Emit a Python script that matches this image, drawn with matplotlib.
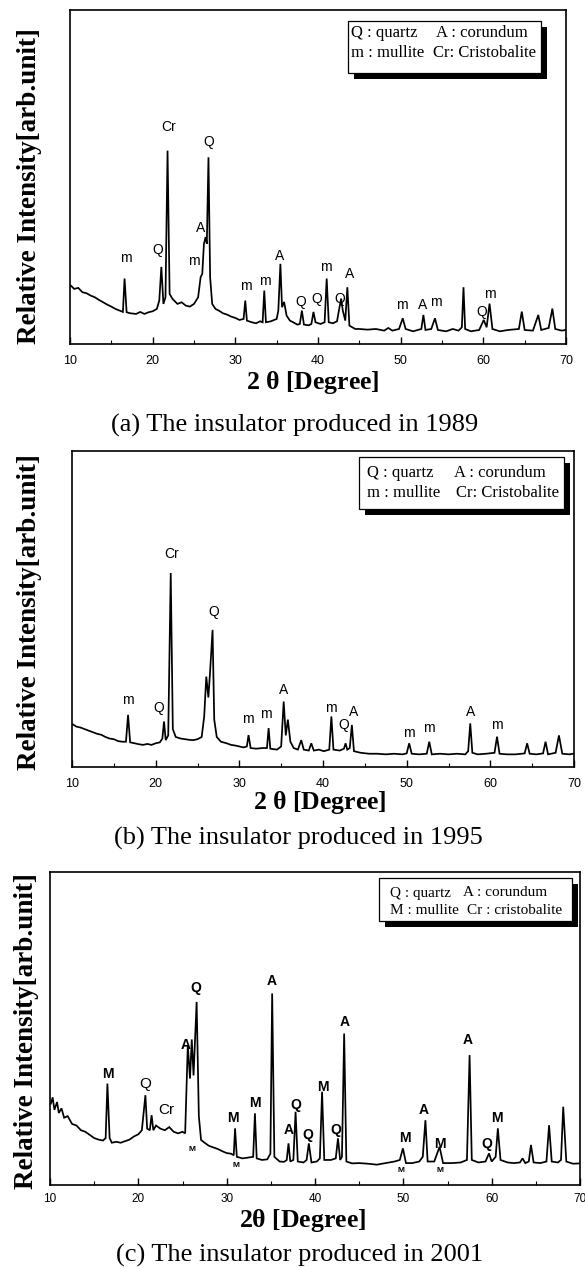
import matplotlib
matplotlib.use("Agg")
import matplotlib.pyplot as plt
from matplotlib.patches import Rectangle
from matplotlib.ticker import MultipleLocator

plt.rcParams['font.family'] = ['Liberation Sans', 'DejaVu Sans']

# ---- data (2theta in degrees, intensity 0..100 of the axis height) ----

# (a) insulator produced in 1989
two_theta_a = [10.1, 10.5, 11.0, 11.5, 12.0, 12.5, 13.0, 13.5, 14.0, 14.5, 15.0, 15.5, 16.0, 16.4,
               16.6, 16.85, 17.3, 18.0, 18.5, 19.0, 19.5, 20.0, 20.5, 20.8, 21.05, 21.3, 21.55,
               21.8, 22.05, 22.4, 23.0, 23.5, 24.0, 24.5, 25.0, 25.5, 25.8, 26.0, 26.2, 26.4,
               26.55, 26.75, 26.95, 27.2, 27.6, 28.0, 28.5, 29.0, 29.5, 30.0, 30.5, 31.0, 31.2,
               31.4, 32.0, 32.5, 33.0, 33.3, 33.5, 33.7, 34.3, 35.0, 35.2, 35.45, 35.65, 35.9,
               36.2, 36.6, 37.0, 37.5, 37.8, 38.05, 38.3, 38.9, 39.2, 39.45, 39.7, 40.3, 40.8,
               41.05, 41.3, 41.8, 42.3, 42.6, 42.8, 43.0, 43.3, 43.55, 43.8, 44.5, 45.0, 46.0,
               47.0, 48.0, 48.5, 49.0, 49.8, 50.25, 50.6, 51.5, 52.5, 52.75, 53.0, 53.7, 54.15,
               54.5, 55.5, 56.3, 57.0, 57.4, 57.6, 57.8, 58.5, 59.5, 60.05, 60.4, 60.75, 61.1,
               62.0, 63.0, 64.3, 64.65, 65.0, 66.0, 66.65, 67.0, 67.9, 68.35, 68.7, 69.5, 69.9]
intensity_a = [17.5, 16.5, 16.8, 15.5, 15.2, 14.5, 14.0, 13.2, 12.5, 11.8, 11.2, 10.5, 10.0, 9.6,
               19.6, 9.5, 9.2, 9.0, 9.6, 9.0, 9.5, 9.8, 10.5, 13.0, 23.1, 12.0, 14.0,
               57.9, 15.0, 13.5, 12.0, 12.5, 11.5, 11.2, 12.0, 14.0, 20.0, 21.0, 30.0, 32.0,
               30.0, 55.9, 20.0, 12.0, 10.5, 10.0, 9.2, 8.8, 8.2, 7.8, 7.2, 7.5, 13.0,
               7.0, 6.5, 6.2, 6.8, 6.5, 16.0, 6.5, 6.8, 7.5, 10.0, 24.0, 11.0, 12.6,
               8.5, 7.0, 6.5, 5.8, 6.0, 10.0, 5.8, 5.6, 6.0, 9.6, 6.5, 6.0, 6.5,
               19.6, 6.5, 6.2, 6.8, 11.0, 13.6, 10.0, 7.0, 17.0, 5.5, 4.5, 4.5, 4.3,
               4.5, 4.0, 4.8, 4.0, 4.5, 7.7, 4.5, 3.8, 4.5, 8.7, 4.2, 4.5, 7.7,
               4.2, 3.8, 4.5, 4.0, 5.0, 17.0, 4.5, 3.8, 4.2, 7.2, 5.0, 12.1, 4.5,
               3.8, 4.2, 4.5, 9.7, 4.2, 4.0, 8.7, 4.2, 4.8, 10.6, 4.5, 4.0, 4.2]
labels_a = [("m", 16.7, 25.6), ("Q", 20.6, 28.0), ("Cr", 21.9, 65.0), ("m", 25.0, 24.8),
            ("A", 25.85, 34.7), ("Q", 26.75, 60.4), ("m", 31.3, 17.3), ("m", 33.6, 18.8),
            ("A", 35.4, 26.3), ("Q", 37.9, 12.6), ("Q", 39.8, 13.4), ("m", 40.9, 23.1),
            ("Q", 42.6, 13.4), ("A", 43.8, 21.1), ("m", 50.1, 11.6), ("A", 52.7, 11.6),
            ("m", 54.2, 12.6), ("Q", 59.8, 9.7), ("m", 60.8, 15.1)]
legend_a = [["Q : quartz", "A : corundum"], ["m : mullite", "Cr: Cristobalite"]]

# (b) insulator produced in 1995
two_theta_b = [10.1, 10.5, 11.0, 11.5, 12.0, 12.5, 13.0, 13.5, 14.0, 14.5, 15.0, 15.5, 16.0, 16.45,
               16.7, 16.95, 17.5, 18.0, 18.5, 19.0, 19.5, 20.0, 20.5, 20.8, 21.0, 21.2, 21.5,
               21.8, 22.05, 22.4, 23.0, 23.5, 24.0, 24.5, 25.0, 25.5, 25.8, 26.05, 26.3, 26.5,
               26.8, 27.0, 27.3, 27.8, 28.5, 29.0, 29.5, 30.0, 30.5, 30.9, 31.1, 31.35, 32.0,
               32.8, 33.3, 33.5, 33.7, 34.5, 35.0, 35.3, 35.55, 35.8, 36.1, 36.5, 37.0, 37.4,
               37.7, 38.3, 38.6, 38.9, 39.5, 40.1, 40.75, 41.0, 41.25, 42.0, 42.5, 42.7, 42.9,
               43.2, 43.45, 43.7, 44.5, 45.5, 46.5, 47.5, 48.5, 49.5, 50.0, 50.3, 50.6, 51.5,
               52.4, 52.7, 53.0, 54.0, 55.0, 56.0, 57.0, 57.35, 57.6, 57.85, 58.5, 59.5, 60.5,
               60.8, 61.1, 62.0, 63.0, 64.1, 64.4, 64.7, 65.5, 66.3, 66.6, 66.9, 67.8, 68.2,
               68.6, 69.5, 69.9]
intensity_b = [13.5, 12.8, 12.5, 12.0, 11.5, 11.0, 10.5, 10.2, 9.5, 9.0, 8.8, 8.2, 8.0, 8.0,
               16.5, 7.8, 7.5, 7.2, 7.0, 7.3, 7.0, 7.5, 7.8, 9.0, 14.4, 8.5, 10.0,
               61.4, 12.0, 9.5, 9.0, 8.8, 8.6, 8.5, 8.8, 9.5, 16.0, 28.6, 22.0, 30.0,
               43.4, 15.0, 9.5, 8.0, 7.5, 7.0, 6.8, 6.5, 6.2, 6.5, 10.1, 6.0, 5.8,
               6.0, 6.0, 12.3, 5.8, 5.5, 6.5, 20.7, 10.0, 15.0, 8.0, 6.0, 5.5, 8.5,
               5.5, 5.2, 7.5, 5.2, 5.5, 5.0, 5.5, 16.0, 5.5, 5.2, 5.8, 7.5, 5.5,
               6.0, 13.3, 5.0, 4.5, 4.2, 4.2, 4.0, 4.2, 4.0, 4.3, 7.5, 4.2, 4.0,
               4.2, 8.0, 4.0, 4.2, 4.0, 4.2, 4.0, 5.0, 13.8, 4.5, 4.0, 4.2, 4.5,
               9.6, 4.2, 4.0, 4.0, 4.3, 7.5, 4.2, 4.0, 4.3, 8.0, 4.0, 4.5, 10.0,
               4.2, 4.0, 4.2]
labels_b = [("m", 16.7, 21.2), ("Q", 20.4, 18.6), ("Cr", 21.9, 67.5), ("Q", 27.0, 49.0),
            ("m", 31.0, 15.1), ("m", 33.2, 16.8), ("A", 35.3, 24.4), ("m", 40.9, 18.6),
            ("Q", 42.5, 13.3), ("A", 43.6, 17.5), ("m", 50.3, 10.9), ("m", 52.7, 12.3),
            ("A", 57.6, 17.5), ("m", 60.8, 13.3)]
legend_b = [["Q : quartz", "A : corundum"], ["m : mullite", "Cr: Cristobalite"]]

# (c) insulator produced in 2001
two_theta_c = [10.1, 10.3, 10.5, 10.8, 11.0, 11.3, 11.6, 12.0, 12.5, 13.0, 13.5, 14.0, 14.5, 15.0,
               15.5, 16.0, 16.3, 16.5, 16.75, 17.0, 17.5, 18.0, 18.5, 19.0, 19.5, 20.0, 20.4,
               20.8, 21.0, 21.3, 21.5, 21.7, 22.0, 22.5, 23.0, 23.5, 24.0, 24.5, 25.0, 25.3,
               25.6, 25.85, 26.05, 26.25, 26.6, 26.85, 27.1, 27.5, 28.0, 28.5, 29.0, 29.5, 30.0,
               30.5, 30.8, 30.95, 31.15, 31.8, 32.5, 33.0, 33.2, 33.4, 34.0, 34.6, 34.95, 35.15,
               35.4, 36.0, 36.5, 36.8, 37.0, 37.2, 37.55, 37.8, 38.05, 38.7, 39.05, 39.3, 39.6,
               40.2, 40.55, 40.8, 41.05, 41.8, 42.35, 42.6, 42.85, 43.05, 43.3, 43.55, 44.2, 45.0,
               46.0, 47.0, 48.0, 49.0, 49.6, 49.95, 50.3, 51.0, 51.8, 52.2, 52.5, 52.75, 53.5,
               54.1, 54.5, 55.5, 56.5, 57.2, 57.5, 57.75, 58.5, 59.3, 59.7, 60.0, 60.45, 60.7,
               61.0, 61.8, 62.5, 63.2, 63.5, 63.8, 64.2, 64.45, 64.75, 65.5, 66.2, 66.5, 66.8,
               67.5, 67.85, 68.1, 68.45, 69.2, 69.9]
intensity_c = [26.0, 28.0, 24.0, 26.5, 23.0, 24.5, 21.5, 22.0, 19.5, 19.0, 17.5, 17.0, 16.0, 15.0,
               14.5, 14.2, 15.0, 32.4, 15.0, 13.5, 13.8, 13.5, 14.0, 14.5, 15.5, 16.2, 17.5,
               28.7, 18.0, 17.5, 22.3, 17.5, 19.0, 18.0, 17.5, 18.5, 17.0, 16.5, 17.0, 16.5,
               44.7, 34.0, 46.5, 35.0, 58.5, 22.0, 14.4, 13.5, 12.5, 12.0, 11.5, 10.8, 10.2,
               10.0, 9.5, 18.1, 9.0, 8.5, 8.8, 9.0, 22.9, 8.5, 8.0, 8.2, 10.0, 61.2,
               9.0, 7.5, 7.4, 8.0, 13.3, 7.5, 8.0, 23.4, 7.5, 7.2, 8.0, 13.3, 7.2,
               7.5, 8.5, 29.8, 8.0, 8.0, 8.5, 14.9, 8.0, 9.0, 48.4, 7.5, 6.9, 7.0,
               6.8, 6.5, 7.0, 7.5, 8.0, 11.7, 7.0, 7.0, 7.5, 9.0, 20.7, 7.5, 7.5,
               12.2, 7.0, 7.0, 7.2, 8.0, 41.5, 8.0, 7.2, 7.5, 10.1, 7.5, 9.0, 18.1,
               8.0, 7.2, 7.0, 7.2, 8.5, 7.0, 7.5, 12.8, 7.2, 7.0, 7.5, 19.1, 7.5,
               7.2, 8.0, 25.0, 7.5, 6.8, 6.9]
labels_c = [("M", 16.5, 35.6), ("A", 25.35, 44.7), ("Q", 26.5, 62.8), ("M", 30.7, 21.3),
            ("M", 33.2, 26.1), ("A", 35.1, 65.2), ("A", 37.0, 17.6), ("Q", 37.8, 25.5),
            ("Q", 39.2, 16.0), ("M", 40.9, 31.4), ("Q", 42.4, 17.6), ("A", 43.4, 52.1),
            ("M", 50.2, 14.9), ("A", 52.3, 24.1), ("M", 54.1, 13.1), ("A", 57.3, 46.3),
            ("Q", 59.5, 13.1), ("M", 60.55, 21.3)]
labels_c_plain = [("Q", 20.8, 32.4), ("Cr", 23.2, 23.9)]
labels_c_small = [("M", 26.1, 11.2), ("M", 31.0, 6.1), ("M", 49.7, 4.6), ("M", 54.1, 4.6)]
legend_c = [["Q : quartz", "A : corundum"], ["M : mullite", "Cr : cristobalite"]]

x_ticks = [10, 20, 30, 40, 50, 60, 70]

FIG_W, FIG_H = 585, 1268
SERIF = ['Liberation Serif', 'DejaVu Serif']


def fx(px):
    return px / FIG_W


def fy(py):
    return 1 - py / FIG_H


def add_legend_box(fig, left, top, right, bottom, rows, cols_x, rows_y, size):
    shadow = 6
    fig.add_artist(Rectangle((fx(left + shadow), fy(bottom + shadow)),
                             fx(right - left), (bottom - top) / FIG_H,
                             transform=fig.transFigure, facecolor='black',
                             edgecolor='none', zorder=5))
    fig.add_artist(Rectangle((fx(left), fy(bottom)), fx(right - left), (bottom - top) / FIG_H,
                             transform=fig.transFigure, facecolor='white',
                             edgecolor='black', linewidth=0.9, zorder=6))
    for r, row in enumerate(rows):
        for c, txt in enumerate(row):
            fig.text(fx(cols_x[r][c]), fy(rows_y[r]), txt, family=SERIF, fontsize=size,
                     ha='left', va='center', zorder=7)


def draw_panel(fig, box, tt, ii, tick_y, tick_size):
    left, top, right, bottom = box
    ax = fig.add_axes([fx(left), fy(bottom), fx(right - left), (bottom - top) / FIG_H])
    ax.plot(tt, ii, color='black', linewidth=1.25, solid_joinstyle='miter')
    ax.set_xlim(10, 70)
    ax.set_ylim(0, 100)
    ax.set_yticks([])
    ax.set_xticks(x_ticks)
    ax.xaxis.set_minor_locator(MultipleLocator(5))
    ax.tick_params(axis='x', which='major', direction='in', length=5, width=1.0,
                   labelsize=tick_size, pad=tick_y - bottom - 7)
    ax.tick_params(axis='x', which='minor', direction='in', length=3, width=0.8)
    for sp in ax.spines.values():
        sp.set_linewidth(1.2)
    return ax


fig = plt.figure(figsize=(FIG_W / 100, FIG_H / 100), dpi=100)

# ---------------- panel (a) ----------------
ax_a = draw_panel(fig, (70, 10, 566, 344), two_theta_a, intensity_a, 359, 9)
for txt, x, y in labels_a:
    ax_a.text(x, y, txt, fontsize=10, ha='center', va='center')
add_legend_box(fig, 348, 21, 541, 73, legend_a,
               [[351, 436], [351, 433]], [33, 53], 12)
fig.text(fx(30), fy(186), 'Relative Intensity[arb.unit]', rotation=90, family=SERIF,
         fontweight='bold', fontsize=19.5, ha='center', va='center')
fig.text(fx(313), fy(383), r'2 $\mathregular{\theta}$ [Degree]', family=SERIF,
         fontweight='bold', fontsize=18.5, ha='center', va='center')
fig.text(fx(295), fy(425), '(a) The insulator produced in 1989', family=SERIF,
         fontsize=19, ha='center', va='center')

# ---------------- panel (b) ----------------
ax_b = draw_panel(fig, (72, 451, 574, 767), two_theta_b, intensity_b, 782, 9)
for txt, x, y in labels_b:
    ax_b.text(x, y, txt, fontsize=10, ha='center', va='center')
add_legend_box(fig, 359, 457, 564, 509, legend_b,
               [[367, 454], [367, 456]], [473, 493], 12)
fig.text(fx(30), fy(612), 'Relative Intensity[arb.unit]', rotation=90, family=SERIF,
         fontweight='bold', fontsize=19.5, ha='center', va='center')
fig.text(fx(320), fy(803), r'2 $\mathregular{\theta}$ [Degree]', family=SERIF,
         fontweight='bold', fontsize=18.5, ha='center', va='center')
fig.text(fx(298), fy(838), '(b) The insulator produced in 1995', family=SERIF,
         fontsize=19, ha='center', va='center')

# ---------------- panel (c) ----------------
ax_c = draw_panel(fig, (50, 872, 580, 1185), two_theta_c, intensity_c, 1198, 8.5)
for txt, x, y in labels_c:
    ax_c.text(x, y, txt, fontsize=10, fontweight='bold', ha='center', va='center')
for txt, x, y in labels_c_plain:
    ax_c.text(x, y, txt, fontsize=11, ha='center', va='center')
for txt, x, y in labels_c_small:
    ax_c.text(x, y, txt, fontsize=6, fontweight='bold', ha='center', va='center')
add_legend_box(fig, 379, 878, 572, 921, legend_c,
               [[390, 463], [390, 467]], [893, 911], 11)
fig.text(fx(27), fy(1031), 'Relative Intensity[arb.unit]', rotation=90, family=SERIF,
         fontweight='bold', fontsize=19.5, ha='center', va='center')
fig.text(fx(303), fy(1220), r'2$\mathregular{\theta}$ [Degree]', family=SERIF,
         fontweight='bold', fontsize=18.5, ha='center', va='center')
fig.text(fx(300), fy(1255), '(c) The insulator produced in 2001', family=SERIF,
         fontsize=19, ha='center', va='center')

fig.savefig('out.png', dpi=100)
